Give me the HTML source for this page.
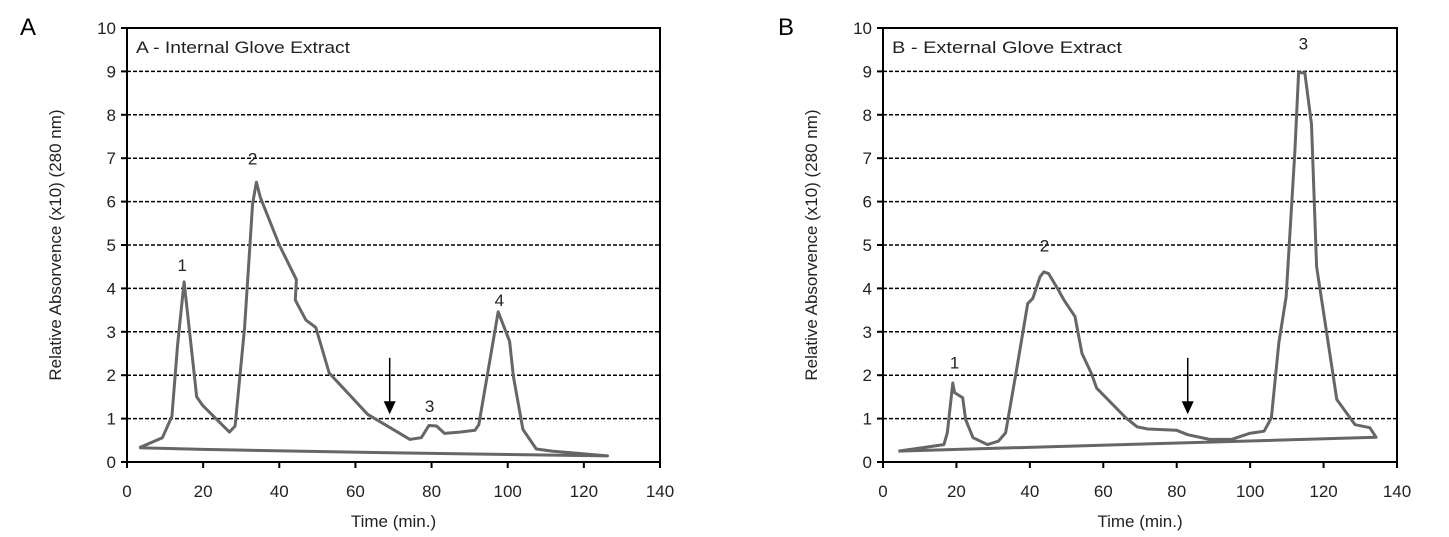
<!DOCTYPE html>
<html><head><meta charset="utf-8"><style>
body{margin:0;background:#fff;}
svg{display:block;font-family:"Liberation Sans",sans-serif;}
</style></head><body>
<svg id="chart" width="1449" height="537"></svg>
<script>
const yTicks=[0,1,2,3,4,5,6,7,8,9,10];
const xTicks=[0,20,40,60,80,100,120,140];
const timeA=[3.2,9.3,11.8,13.3,15.0,16.8,18.3,19.9,26.9,28.4,30.9,33,34,35,40,44.5,44.2,47,49.6,53.1,63.2,74.3,77.3,79.3,81.3,83.4,87.4,91.4,92.4,97.5,100.5,101.5,104,107.5,111.6,126.2,65,20,3.2];
const absA=[0.33,0.56,1.05,2.7,4.15,2.7,1.5,1.3,0.69,0.83,3.1,5.95,6.45,6.1,5.0,4.2,3.73,3.27,3.1,2.05,1.1,0.52,0.56,0.84,0.83,0.66,0.69,0.73,0.86,3.46,2.78,1.97,0.75,0.3,0.25,0.14,0.22,0.29,0.33];
const timeB=[4.2,16.6,17.5,19,19.5,21.7,22.5,24.5,28.5,31.4,33.4,36.4,39.4,40.8,42.8,43.8,45.1,47.8,49.3,52.3,54.2,56.7,58.2,66.1,69.2,72.1,80,83,88.9,94.9,99.8,103.8,105.8,107.8,109.8,112.2,113.2,114.9,116.7,118.1,123.6,128.6,132.6,134.3,4.2];
const absB=[0.25,0.4,0.67,1.82,1.6,1.48,0.98,0.56,0.4,0.48,0.67,2.13,3.65,3.77,4.27,4.38,4.34,3.96,3.73,3.35,2.5,2.05,1.7,1.02,0.81,0.76,0.73,0.63,0.52,0.52,0.66,0.71,1.02,2.74,3.8,7.17,8.97,8.97,7.78,4.5,1.44,0.86,0.79,0.57,0.25];
const peakLabelsA=["1","2","3","4"], peakXA=[14.5,33,79.5,97.8], peakYA=[4.4,6.85,1.15,3.6];
const peakLabelsB=["1","2","3"], peakXB=[19.5,44,114.5], peakYB=[2.15,4.85,9.5];
const arrowA=69, arrowB=83;

const NS="http://www.w3.org/2000/svg";
const svg=document.getElementById('chart');
function mk(tag,attrs,parent){const e=document.createElementNS(NS,tag);for(const k in attrs)e.setAttribute(k,attrs[k]);(parent||svg).appendChild(e);return e;}

function panel(p){
  const g=mk('g',{});
  
  
  const sx=v=>p.x0+(v/140)*(p.x1-p.x0);
  const sy=v=>462-(v/10)*(462-28);
  for(let i=1;i<yTicks.length-1;i++){
    const l=mk('line',{x1:sx(0),x2:sx(140),y1:sy(yTicks[i]),y2:sy(yTicks[i]),stroke:'#000','stroke-width':1.5,'stroke-dasharray':'4,2'},g);
    
    
  }
  const fr=mk('rect',{x:sx(0),y:sy(10),width:sx(140)-sx(0),height:sy(0)-sy(10),fill:'none',stroke:'#000','stroke-width':2},g);
  
  
  yTicks.forEach(t=>{
    mk('line',{x1:sx(0)-6,x2:sx(0),y1:sy(t),y2:sy(t),stroke:'#000','stroke-width':2},g);
    const tx=mk('text',{x:sx(0)-11,y:sy(t)+6,'text-anchor':'end','font-size':17,fill:'#222'},g);
    tx.textContent=t;
    
    
  });
  xTicks.forEach(t=>{
    mk('line',{x1:sx(t),x2:sx(t),y1:462,y2:468,stroke:'#000','stroke-width':2},g);
    const tx=mk('text',{x:sx(t),y:497,'text-anchor':'middle','font-size':17,fill:'#222'},g);
    tx.textContent=t;
    
    
  });
  const xt=mk('text',{x:(sx(0)+sx(140))/2,y:527,'text-anchor':'middle','font-size':17,fill:'#222'},g);
  xt.textContent='Time (min.)';
  
  
  const yx=p.x0-66, yy=245;
  const yt=mk('text',{x:yx,y:yy,'text-anchor':'middle','font-size':17,fill:'#222',transform:`rotate(-90 ${yx} ${yy})`},g);
  yt.textContent='Relative Absorvence (x10) (280 nm)';
  
  
  const tt=mk('text',{x:sx(0)+9,y:53,'font-size':17,fill:'#222',textLength:p.titleLen,lengthAdjust:'spacingAndGlyphs'},g);
  tt.textContent=p.title;
  
  
  const lt=mk('text',{x:p.letterX,y:35,'font-size':24,fill:'#000'},g);
  lt.textContent=p.letter;
  
  
  let d='';
  p.t.forEach((v,i)=>{d+=(i?'L':'M')+sx(v).toFixed(1)+','+sy(p.a[i]).toFixed(1);});
  const path=mk('path',{d:d,fill:'none',stroke:'#666','stroke-width':3,'stroke-linejoin':'round'},g);
  
  
  p.labels.forEach((s,i)=>{
    const tx=mk('text',{x:sx(p.lx[i]),y:sy(p.ly[i]),'text-anchor':'middle','font-size':17,fill:'#222'},g);
    tx.textContent=s;
    
    
  });
  const ax=sx(p.arrow);
  const ar=mk('g',{},g);
  
  
  mk('line',{x1:ax,x2:ax,y1:sy(2.4),y2:sy(1.3),stroke:'#000','stroke-width':1.5},ar);
  mk('polygon',{points:`${ax-6},${sy(1.4)} ${ax+6},${sy(1.4)} ${ax},${sy(1.1)}`,fill:'#000'},ar);
}
panel({id:'internal',x0:127,x1:660,title:'A - Internal Glove Extract',titleLen:214,letter:'A',letterX:20,t:timeA,a:absA,labels:peakLabelsA,lx:peakXA,ly:peakYA,arrow:arrowA});
panel({id:'external',x0:883,x1:1397,title:'B - External Glove Extract',titleLen:230,letter:'B',letterX:778,t:timeB,a:absB,labels:peakLabelsB,lx:peakXB,ly:peakYB,arrow:arrowB});
</script>
</body></html>
